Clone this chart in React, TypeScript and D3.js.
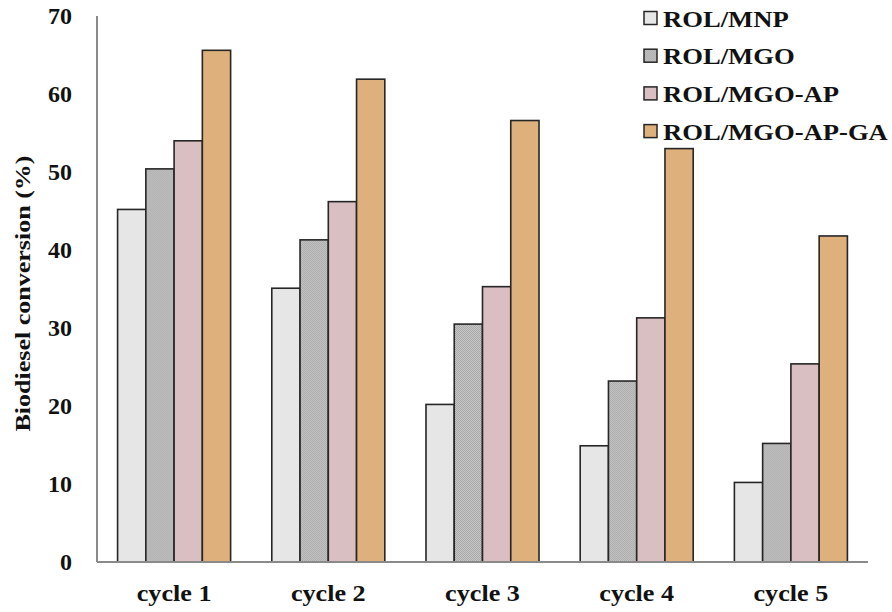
import React from "react";
import * as d3 from "d3";

const cycles = ["cycle 1", "cycle 2", "cycle 3", "cycle 4", "cycle 5"];
const seriesNames = ["ROL/MNP", "ROL/MGO", "ROL/MGO-AP", "ROL/MGO-AP-GA"];
const mnp = [45.2, 35.1, 20.2, 14.9, 10.2];
const mgo = [50.4, 41.3, 30.5, 23.2, 15.2];
const mgoAp = [54.0, 46.2, 35.3, 31.3, 25.4];
const mgoApGa = [65.6, 61.9, 56.6, 53.0, 41.8];
const yTicks = [0, 10, 20, 30, 40, 50, 60, 70];
const fills = ["#e6e6e6", "url(#dots)", "#d9bfc2", "#deb07b"];

const W = 892;
const H = 612;
const FONT = "'Liberation Serif', 'Times New Roman', serif";

export default function App() {
  const values = [mnp, mgo, mgoAp, mgoApGa];
  const x0 = d3
    .scaleBand<string>()
    .domain(cycles)
    .range([97, 868])
    .paddingInner(0.267)
    .paddingOuter(0.1335);
  const x1 = d3.scaleBand<string>().domain(seriesNames).range([0, x0.bandwidth()]).padding(0);
  const y = d3.scaleLinear().domain([0, 70]).range([562, 16]);

  return (
    <svg width={W} height={H} style={{ position: "absolute", left: 0, top: 0, background: "#fff" }}>
      <defs>
        <pattern id="dots" width="2" height="2" patternUnits="userSpaceOnUse">
          <rect width="2" height="2" fill="#c6c6c6" />
          <rect width="1" height="1" fill="#a9a9a9" />
          <rect x="1" y="1" width="1" height="1" fill="#a9a9a9" />
        </pattern>
      </defs>
      {/* bars */}
      {cycles.map((c, i) => (
        <g key={c} transform={`translate(${x0(c)},0)`}>
          {seriesNames.map((s, j) => (
            <rect
              key={s}
              x={x1(s)!}
              y={y(values[j][i])}
              width={x1.bandwidth()}
              height={y(0) - y(values[j][i])}
              fill={fills[j]}
              stroke="#262626"
              strokeWidth={1.6}
            />
          ))}
        </g>
      ))}
      {/* axes */}
      <line x1={97} x2={97} y1={y(70)} y2={y(0)} stroke="#8a8a8a" strokeWidth={2} />
      <line x1={97} x2={868} y1={y(0)} y2={y(0)} stroke="#8a8a8a" strokeWidth={2} />
      {yTicks.map((t) => (
        <text
          key={t}
          x={72}
          y={y(t)}
          dy="0.35em"
          textAnchor="end"
          fontFamily={FONT}
          fontWeight="bold"
          fontSize={24}
          fill="#111"
        >
          {t}
        </text>
      ))}
      {cycles.map((c) => (
        <g key={c} transform={`translate(${x0(c)! + x0.bandwidth() / 2},601) scale(1.09,1)`}>
          <text
            x={0}
            y={0}
            textAnchor="middle"
            fontFamily={FONT}
            fontWeight="bold"
            fontSize={24}
            fill="#111"
          >
            {c}
          </text>
        </g>
      ))}
      <text
        transform={`translate(30,${(155 + 432) / 2}) rotate(-90)`}
        textAnchor="middle"
        fontFamily={FONT}
        fontWeight="bold"
        fontSize={22}
        fill="#111"
        textLength={276}
        lengthAdjust="spacingAndGlyphs"
      >
        Biodiesel conversion (%)
      </text>
      {/* legend */}
      {seriesNames.map((s, j) => (
        <g key={s} transform={`translate(644,${18 + j * 37.7})`}>
          <rect x={0} y={-6.5} width={13} height={13} fill={fills[j]} stroke="#262626" strokeWidth={1.5} />
          <g transform="translate(19,0) scale(1.11,1)">
            <text
              x={0}
              y={0}
              dy="0.36em"
              fontFamily={FONT}
              fontWeight="bold"
              fontSize={24}
              fill="#111"
            >
              {s}
            </text>
          </g>
        </g>
      ))}
    </svg>
  );
}
